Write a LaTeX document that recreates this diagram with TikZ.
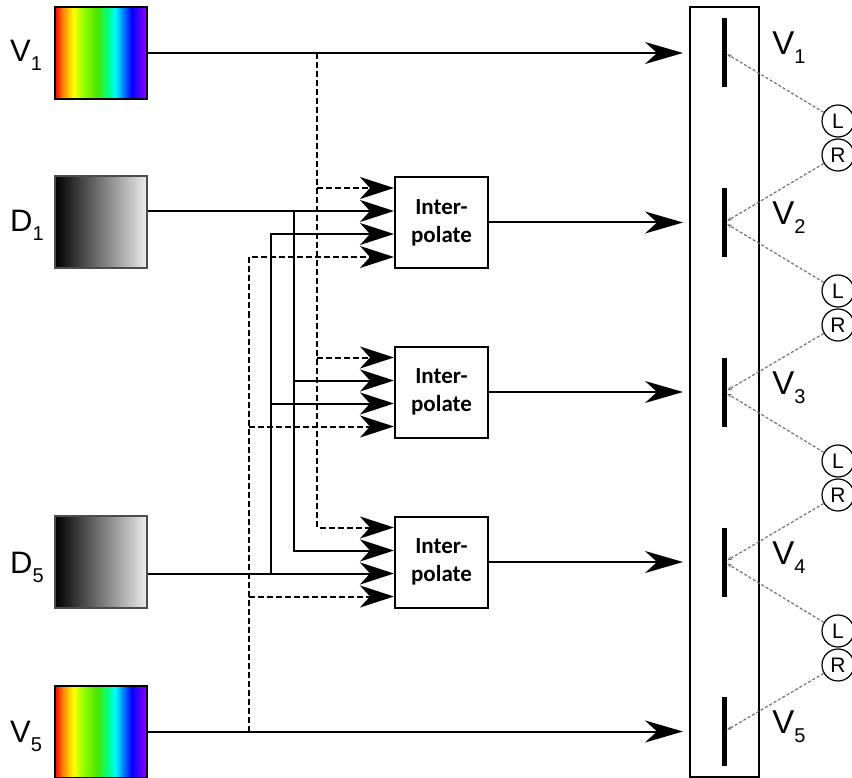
\documentclass[tikz,border=0pt]{standalone}
\usepackage{fontspec}
\setmainfont{Liberation Sans}
\newfontfamily\boxfont{Carlito}
\usepackage{tikz}
\usetikzlibrary{
  arrows.meta,  % Stealth 箭头样式
  calc,         % 坐标计算
  positioning   % 节点相对定位
}

% 彩色图的彩虹渐变（25bp--75bp 对应方框宽度）
\pgfdeclarehorizontalshading{rainbow}{100bp}{%
  rgb(0bp)=(1,0,0); rgb(25bp)=(1,0,0); rgb(29bp)=(1,0.5,0);
  rgb(35bp)=(1,1,0); rgb(40bp)=(0.6,1,0); rgb(47.5bp)=(0.3,0.9,0);
  rgb(53.5bp)=(0,1,0.5); rgb(57.5bp)=(0,1,1); rgb(66.5bp)=(0,0,1);
  rgb(75bp)=(0.6,0,1); rgb(100bp)=(0.6,0,1)}

% 标签下标
\newcommand{\lowidx}[1]{\raisebox{-9pt}{\fontsize{20}{20}\selectfont #1}}

\tikzset{
  rainbowbox/.style={draw, line width=2pt, shade, shading=rainbow,
    minimum width=92, minimum height=92, inner sep=0},
  depthbox/.style={draw=black!70, line width=2pt, left color=black,
    right color=black!7, minimum width=92, minimum height=92, inner sep=0},
  interp/.style={draw, line width=2pt, minimum width=93, minimum height=91,
    inner sep=0, align=center,
    font={\boxfont\bfseries\fontsize{23}{28}\selectfont}},
  screen/.style={draw, line width=2pt, minimum width=69, minimum height=769.5,
    inner sep=0},
  bar/.style={fill=black, minimum width=5, minimum height=69, inner sep=0},
  eye/.style={draw, circle, line width=1.2pt, minimum size=32, inner sep=0,
    font=\fontsize{21}{21}\selectfont},
  lbl/.style={anchor=base west, inner sep=0, font=\fontsize{31}{31}\selectfont},
  rlbl/.style={anchor=base west, inner sep=0, font=\fontsize{33}{33}\selectfont},
  signal/.style={line width=2pt},
  dashsig/.style={line width=2pt, dash pattern=on 6pt off 3pt},
  inarrow/.style={-{Stealth[length=34pt, width=22pt, inset=10pt]}},
  outarrow/.style={-{Stealth[length=38pt, width=22pt, inset=12pt]}, shorten >=6pt},
  view/.style={black!55, line width=1.2pt, dash pattern=on 3pt off 2pt,
    -{Stealth[length=5pt, width=4pt]}}
}

\begin{document}
\begin{tikzpicture}[x=1pt, y=-1pt]
  \useasboundingbox (0,0) rectangle (852,778);

  % ===== 输入：彩色图与深度图 =====
  \node[rainbowbox] (v1) at (101,53) {};
  \node[depthbox]   (d1) at (101,222) {};
  \node[depthbox]   (d5) at (101,562) {};
  \node[rainbowbox] (v5) at (101,731.5) {};

  \node[lbl] (lv1) at ([xshift=-44pt, yshift=-9pt]v1.west) {V\lowidx{1}};
  \node[lbl] (ld1) at ([xshift=-44pt, yshift=-10pt]d1.west) {D\lowidx{1}};
  \node[lbl] (ld5) at ([xshift=-44pt, yshift=-11pt]d5.west) {D\lowidx{5}};
  \node[lbl] (lv5) at ([xshift=-44pt, yshift=-11pt]v5.west) {V\lowidx{5}};

  % ===== 插值模块 =====
  \node[interp] (ip1) at (441.5,222.5) {Inter-\\polate};
  \node[interp] (ip2) at (441.5,392)   {Inter-\\polate};
  \node[interp] (ip3) at (441.5,562)   {Inter-\\polate};

  % 每个模块左侧的四个输入端
  \foreach \k in {1,2,3} {
    \coordinate (ia\k) at ($(ip\k.west)+(0,-34.5)$);
    \coordinate (ib\k) at ($(ip\k.west)+(0,-11.5)$);
    \coordinate (ic\k) at ($(ip\k.west)+(0,11.5)$);
    \coordinate (id\k) at ($(ip\k.west)+(0,34.5)$);
  }

  % 分支竖线的横坐标
  \coordinate (xa) at (317,0);
  \coordinate (xb) at (294,0);
  \coordinate (xc) at (271,0);
  \coordinate (xd) at (249,0);

  % ===== 显示屏与视点 =====
  \node[screen] (scr) at (724.5,391.75) {};
  \foreach \k/\y in {1/52.5, 2/222.5, 3/392, 4/562, 5/731.5} {
    \node[bar] (s\k) at (724.5,\y) {};
    \node[rlbl] (tv\k) at ([xshift=45pt, yshift=-2pt]s\k.east) {V\lowidx{\k}};
  }

  % --- 直通的两路 ---
  \draw[signal, outarrow] (v1.east) -- (v1.east -| scr.west);
  \draw[signal, outarrow] (v5.east) -- (v5.east -| scr.west);

  % --- 深度图直连 ---
  \draw[signal, inarrow] (d1.east |- ib1) -- (ib1);
  \draw[signal, inarrow] (d5.east |- ic3) -- (ic3);

  % --- V1 分支（虚线）---
  \draw[dashsig, inarrow] (xa |- v1.east) -- (xa |- ia3) -- (ia3);
  \draw[dashsig, inarrow] (xa |- ia1) -- (ia1);
  \draw[dashsig, inarrow] (xa |- ia2) -- (ia2);

  % --- D1 分支 ---
  \draw[signal, inarrow] (xb |- ib1) -- (xb |- ib3) -- (ib3);
  \draw[signal, inarrow] (xb |- ib2) -- (ib2);

  % --- D5 分支 ---
  \draw[signal, inarrow] (xc |- ic3) -- (xc |- ic1) -- (ic1);
  \draw[signal, inarrow] (xc |- ic2) -- (ic2);

  % --- V5 分支（虚线）---
  \draw[dashsig, inarrow] (xd |- v5.east) -- (xd |- id1) -- (id1);
  \draw[dashsig, inarrow] (xd |- id2) -- (id2);
  \draw[dashsig, inarrow] (xd |- id3) -- (id3);

  % --- 插值输出到屏幕 ---
  \foreach \k in {1,2,3}
    \draw[signal, outarrow] (ip\k.east) -- (ip\k.east -| scr.west);

  % --- 左右眼视线 ---
  \foreach \k/\yl/\yr/\n in {1/121/155/2, 2/291/325/3, 3/461/495/4, 4/631/665/5} {
    \node[eye] (l\k) at (838,\yl) {L};
    \node[eye] (r\k) at (838,\yr) {R};
    \draw[view] (l\k) -- (s\k);
    \draw[view] (r\k) -- (s\n);
  }
\end{tikzpicture}
\end{document}
